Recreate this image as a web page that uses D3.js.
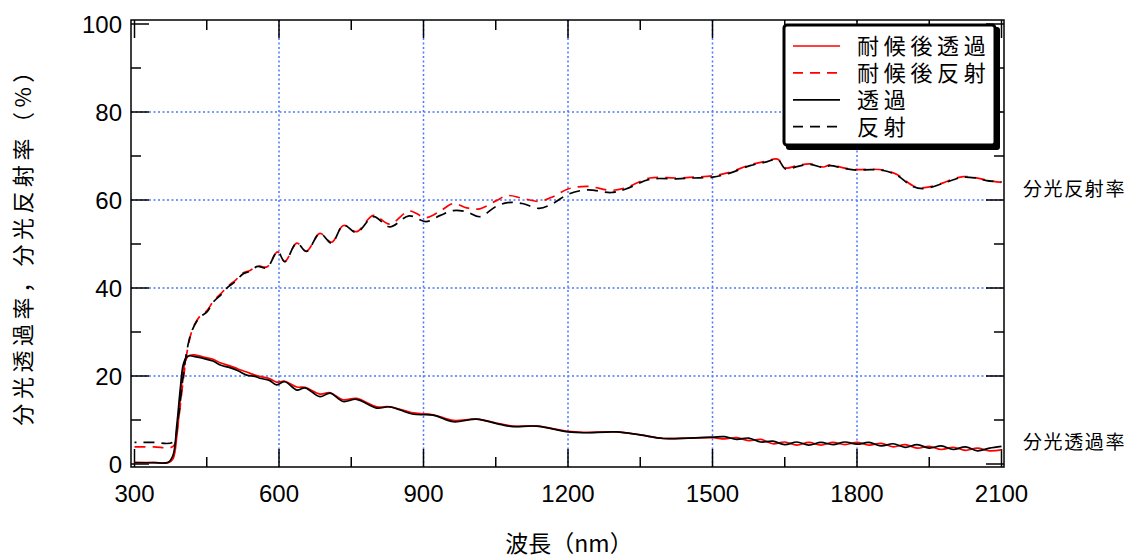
<!DOCTYPE html>
<html>
<head>
<meta charset="utf-8">
<script src="https://cdn.jsdelivr.net/npm/d3@7"></script>
<style>
  body { margin: 0; background: #fff; }
  text { font-family: "Liberation Sans", Arial, sans-serif; }
  .cjk { font-family: "Noto Sans CJK JP", "Noto Sans CJK SC", sans-serif; }
</style>
</head>
<body>
<svg id="chart" width="1132" height="558"></svg>
<script>
// wavelength grid (nm) for the reflectance curves
const reflWl = [300, 340, 380, 390, 400, 410, 420, 435, 450, 465, 480, 495, 510, 525, 540, 555, 575, 597, 612, 637,
  657, 685, 709, 734, 761, 796, 830, 870, 905, 935, 962, 990, 1017, 1050, 1075, 1105, 1140, 1170, 1200, 1240,
  1290, 1320, 1370, 1425, 1460, 1500, 1536, 1578, 1610, 1635, 1652, 1675, 1702, 1730, 1744, 1772, 1800, 1830,
  1855, 1883, 1917, 1940, 1979, 2000, 2021, 2045, 2069, 2100];
// 反射 (black dashed)
const reflBlack = [4.9, 4.9, 5.0, 10, 19, 26.5, 30.5, 33.3, 34.5, 37.0, 38.5, 40.3, 41.5, 43.2, 43.8, 44.9, 44.6, 48.3, 46.0, 50.2,
  48.3, 52.4, 50.2, 54.3, 52.6, 56.2, 53.9, 56.4, 55.1, 56.5, 57.6, 57.3, 56.2, 58.5, 59.4, 59.2, 58.1, 59.3, 61.3, 62.3,
  61.7, 62.5, 64.7, 64.8, 65.0, 65.2, 66.1, 67.8, 68.6, 69.2, 67.0, 67.6, 68.1, 67.4, 67.8, 67.2, 66.8, 66.9,
  66.7, 65.6, 63.0, 62.6, 63.8, 64.6, 65.2, 65.0, 64.4, 64.1];
// 耐候後反射 (red dashed)
const reflRed = [3.9, 3.9, 4.0, 9, 18, 26, 30.5, 33.5, 34.8, 37.2, 38.8, 40.5, 41.8, 43.4, 44.0, 45.0, 44.8, 48.2, 46.0, 50.2,
  48.4, 52.4, 50.4, 54.2, 52.8, 56.5, 54.5, 57.5, 56.0, 57.5, 59.2, 58.2, 58.0, 59.8, 61.0, 60.4, 59.7, 60.8, 62.5, 63.1,
  62.2, 62.8, 65.0, 65.0, 65.2, 65.5, 66.3, 68.0, 68.8, 69.3, 67.3, 67.8, 68.2, 67.5, 68.0, 67.3, 66.9, 67.0,
  66.8, 65.8, 63.2, 62.8, 63.9, 64.8, 65.3, 65.1, 64.5, 64.0];

// wavelength grid (nm) for the transmittance curves
const transWl = [300, 340, 370, 380, 388, 395, 401, 408, 415, 425, 443, 463, 478, 498, 515, 533, 550, 560, 580, 595,
  612, 637, 654, 685, 706, 733, 761, 803, 830, 879, 920, 962, 1010, 1059, 1086, 1135, 1201, 1232, 1301, 1350,
  1398, 1450, 1500, 1525, 1550, 1575, 1600, 1625, 1650, 1675, 1700, 1725, 1750, 1775, 1800, 1825, 1850, 1875,
  1900, 1925, 1950, 1975, 2000, 2025, 2050, 2075, 2100];
// 透過 (black solid)
const transBlack = [0.3, 0.3, 0.4, 2.0, 9.0, 17.0, 22.5, 24.3, 24.6, 24.4, 24.0, 23.4, 22.5, 21.9, 21.2, 20.2, 19.9, 19.5, 19.0, 18.0,
  18.7, 16.8, 17.3, 15.3, 16.1, 14.2, 14.7, 12.7, 13.0, 11.3, 11.1, 9.6, 10.2, 9.0, 8.5, 8.6, 7.3, 7.1, 7.3, 6.6,
  5.8, 5.9, 6.1, 6.2, 5.6, 5.9, 5.0, 5.2, 4.4, 5.0, 4.3, 4.9, 4.4, 5.0, 4.5, 4.9, 4.1, 4.6,
  3.8, 4.4, 3.6, 4.1, 3.3, 3.9, 3.0, 3.6, 4.0];
// 耐候後透過 (red solid)
const transRed = [0.3, 0.3, 0.3, 1.2, 6.5, 14.5, 21.0, 24.0, 24.7, 24.8, 24.3, 23.8, 23.0, 22.3, 21.6, 20.9, 20.2, 19.9, 19.4, 18.6,
  18.8, 17.5, 17.4, 15.9, 16.2, 14.6, 14.9, 13.0, 13.0, 11.6, 11.2, 9.9, 10.2, 9.1, 8.6, 8.6, 7.4, 7.2, 7.3, 6.6,
  5.8, 5.9, 6.0, 5.7, 6.0, 5.3, 5.6, 4.6, 5.0, 4.3, 4.9, 4.3, 4.9, 4.4, 4.9, 4.3, 4.7, 3.9,
  4.4, 3.6, 4.0, 3.3, 3.8, 3.1, 3.6, 3.0, 3.2];

const xTicks = [300, 600, 900, 1200, 1500, 1800, 2100];
const xMinor = [450, 750, 1050, 1350, 1650, 1950];
const yTicks = [0, 20, 40, 60, 80, 100];
const yMinor = [10, 30, 50, 70, 90];
const legendLabels = ["耐候後透過", "耐候後反射", "透過", "反射"];
const sideLabels = ["分光反射率", "分光透過率"];

const svg = d3.select("#chart");

const frame = {left: 131, right: 1004, top: 20, bottom: 467};
const xScale = d3.scaleLinear().domain([300, 2100]).range([134.5, 1001.5]);
const yScale = d3.scaleLinear().domain([0, 100]).range([464, 24]);

// blue dotted grid
const grid = svg.append("g")
  .attr("stroke", "#4a78ff")
  .attr("stroke-width", 1.5)
  .attr("stroke-dasharray", "2,2.5");
grid.selectAll(".vgrid")
  .data(xTicks.slice(1, -1))
  .enter().append("line")
  .attr("x1", d => xScale(d)).attr("x2", d => xScale(d))
  .attr("y1", frame.top).attr("y2", frame.bottom);
grid.selectAll(".hgrid")
  .data(yTicks.slice(1, -1))
  .enter().append("line")
  .attr("x1", frame.left).attr("x2", frame.right)
  .attr("y1", d => yScale(d)).attr("y2", d => yScale(d));

// ticks pointing inward on all four sides
const tickLayer = svg.append("g").attr("stroke", "#000").attr("stroke-width", 1.5);
const addTicks = (vals, len, horizontal) => {
  vals.forEach(v => {
    if (horizontal) {
      const px = xScale(v);
      tickLayer.append("line").attr("x1", px).attr("x2", px).attr("y1", frame.bottom).attr("y2", frame.bottom - len);
      tickLayer.append("line").attr("x1", px).attr("x2", px).attr("y1", frame.top).attr("y2", frame.top + len);
    } else {
      const py = yScale(v);
      tickLayer.append("line").attr("x1", frame.left).attr("x2", frame.left + len).attr("y1", py).attr("y2", py);
      tickLayer.append("line").attr("x1", frame.right).attr("x2", frame.right - len).attr("y1", py).attr("y2", py);
    }
  });
};
addTicks(xTicks, 18, true);
addTicks(xMinor, 10, true);
addTicks(yTicks, 18, false);
addTicks(yMinor, 10, false);

// tick labels
svg.selectAll(".xlab")
  .data(xTicks)
  .enter().append("text")
  .attr("x", d => xScale(d))
  .attr("y", 502)
  .attr("text-anchor", "middle")
  .attr("font-size", 24)
  .text(d => d);
svg.selectAll(".ylab")
  .data(yTicks)
  .enter().append("text")
  .attr("x", 122)
  .attr("y", d => yScale(d) + 8.5)
  .attr("text-anchor", "end")
  .attr("font-size", 24)
  .text(d => d);

// curves
const makeLine = wl => d3.line()
  .x((d, i) => xScale(wl[i]))
  .y(d => yScale(d))
  .curve(d3.curveCatmullRom.alpha(0.5));

const series = [
  {vals: transRed, wl: transWl, color: "#ff0000", dash: null},
  {vals: reflRed, wl: reflWl, color: "#ff0000", dash: "11,7"},
  {vals: transBlack, wl: transWl, color: "#000", dash: null},
  {vals: reflBlack, wl: reflWl, color: "#000", dash: "11,7", offset: 9}
];
const plot = svg.append("g");
series.forEach(s => {
  plot.append("path")
    .datum(s.vals)
    .attr("d", makeLine(s.wl))
    .attr("fill", "none")
    .attr("stroke", s.color)
    .attr("stroke-width", 1.7)
    .attr("stroke-dasharray", s.dash)
    .attr("stroke-dashoffset", s.offset || 0);
});

// frame
svg.append("rect")
  .attr("x", frame.left).attr("y", frame.top)
  .attr("width", frame.right - frame.left).attr("height", frame.bottom - frame.top)
  .attr("fill", "none").attr("stroke", "#000").attr("stroke-width", 1.5);

// legend
const legend = svg.append("g");
legend.append("rect")
  .attr("x", 786).attr("y", 27).attr("width", 214).attr("height", 123)
  .attr("rx", 3).attr("fill", "#000");
legend.append("rect")
  .attr("x", 784).attr("y", 25).attr("width", 211).attr("height", 120)
  .attr("rx", 3).attr("fill", "#fff").attr("stroke", "#000").attr("stroke-width", 3);
const legendRows = legend.selectAll(".row")
  .data(legendLabels)
  .enter().append("g")
  .attr("transform", (d, i) => `translate(0, ${46 + i * 26.9})`);
legendRows.append("line")
  .attr("x1", 793).attr("x2", 840)
  .attr("stroke", (d, i) => i < 2 ? "#ff0000" : "#000")
  .attr("stroke-width", 1.7)
  .attr("stroke-dasharray", (d, i) => i % 2 ? "10,7" : null);
legendRows.append("text")
  .attr("class", "cjk")
  .attr("x", 857).attr("y", 8)
  .attr("font-size", 22)
  .attr("letter-spacing", 4.7)
  .text(d => d);

// right side labels
svg.selectAll(".side")
  .data(sideLabels)
  .enter().append("text")
  .attr("class", "cjk")
  .attr("x", 1023)
  .attr("y", (d, i) => i === 0 ? 196 : 449)
  .attr("font-size", 19)
  .attr("letter-spacing", 1.6)
  .text(d => d);

// axis titles
svg.append("text")
  .attr("class", "cjk")
  .attr("x", 569).attr("y", 552)
  .attr("text-anchor", "middle")
  .attr("font-size", 23)
  .text("波長（nm）");
svg.append("text")
  .attr("class", "cjk")
  .attr("transform", "translate(31, 241) rotate(-90)")
  .attr("text-anchor", "middle")
  .attr("font-size", 22)
  .attr("letter-spacing", 4.5)
  .text("分光透過率，分光反射率（%）");
</script>
</body>
</html>
